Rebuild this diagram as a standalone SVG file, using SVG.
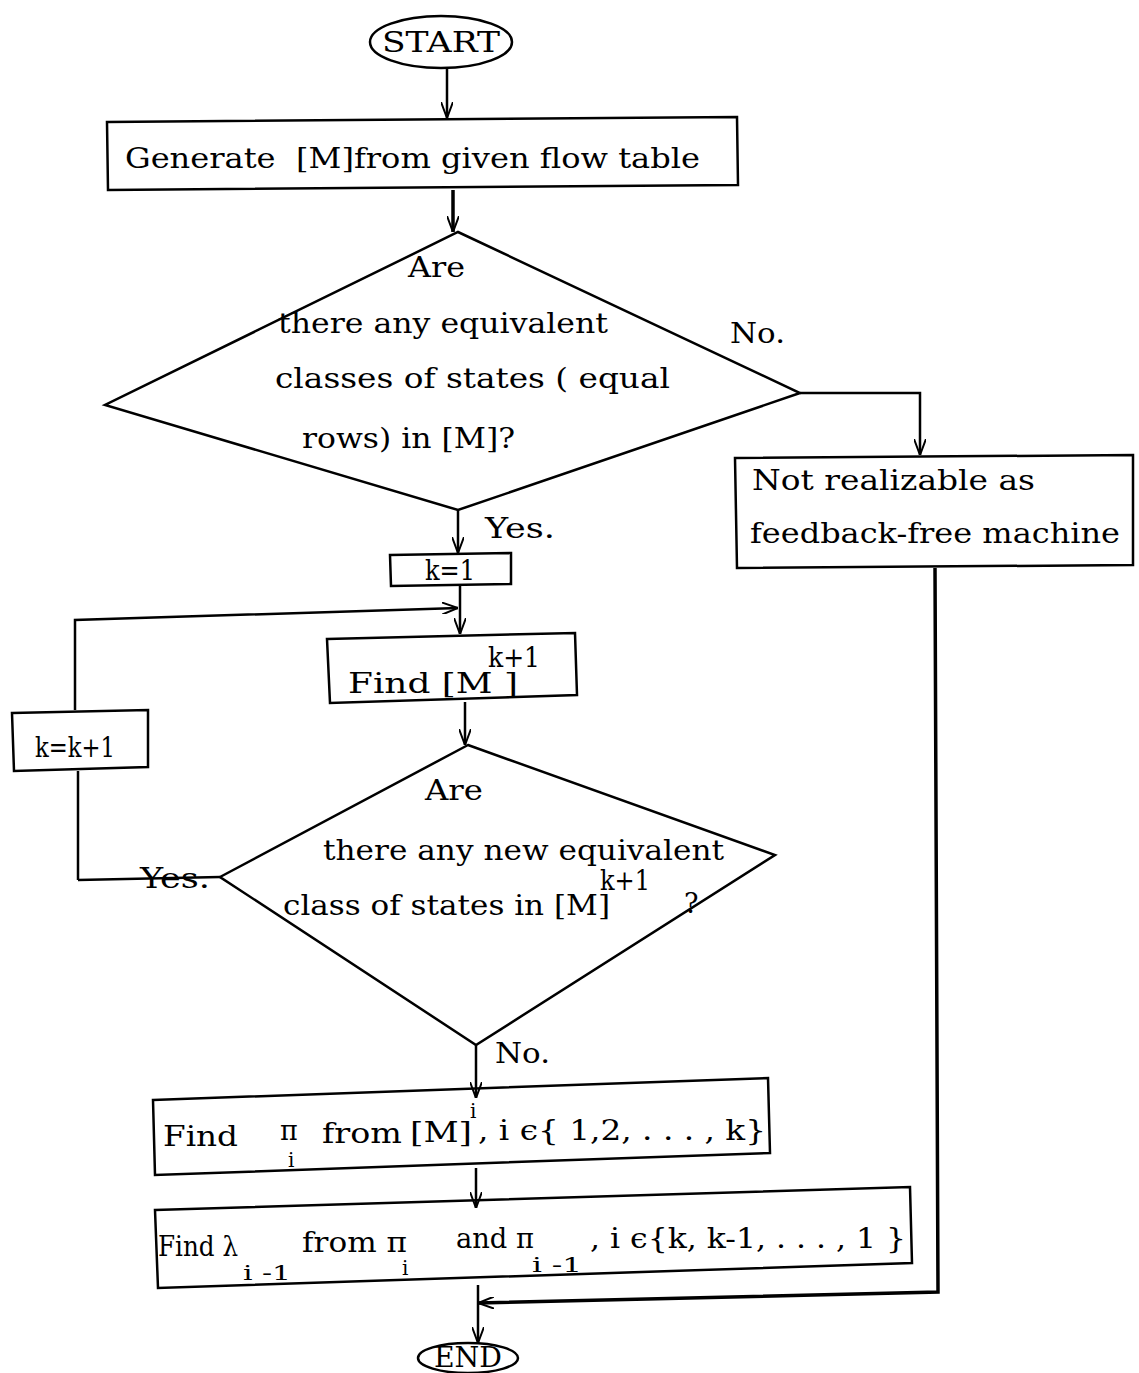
<svg xmlns="http://www.w3.org/2000/svg" width="1139" height="1373" viewBox="0 0 1139 1373">
<defs>
<style>
.s{fill:none;stroke:#000;stroke-width:2.5}
.t{font-family:"DejaVu Serif","Liberation Serif",serif;font-size:27px;fill:#000}
.sm{font-family:"DejaVu Serif","Liberation Serif",serif;font-size:20px;fill:#000}
</style>
<marker id="a" viewBox="0 0 16 12" refX="16" refY="6" markerWidth="16" markerHeight="12" markerUnits="userSpaceOnUse" orient="auto">
<path d="M0,0 L16,6 L0,12" fill="none" stroke="#000" stroke-width="2"/>
</marker>
</defs>
<rect width="1139" height="1373" fill="#fff"/>
<g id="connectors" class="s">
<line x1="447" y1="68" x2="447" y2="118" marker-end="url(#a)"/>
<line x1="453" y1="190" x2="453" y2="232" stroke-width="3.5" marker-end="url(#a)"/>
<polyline points="800,393 920,393 920,455" marker-end="url(#a)"/>
<line x1="458" y1="510" x2="458" y2="553" marker-end="url(#a)"/>
<line x1="460" y1="585" x2="460" y2="634" marker-end="url(#a)"/>
<polyline points="78,880 78,771"/>
<polyline points="75,710 75,620 458,608" marker-end="url(#a)"/>
<line x1="220" y1="877" x2="78" y2="880"/>
<line x1="465" y1="702" x2="465" y2="745" marker-end="url(#a)"/>
<line x1="476" y1="1045" x2="476" y2="1098" marker-end="url(#a)"/>
<line x1="476" y1="1168" x2="476" y2="1208" marker-end="url(#a)"/>
<line x1="478" y1="1285" x2="478" y2="1343" marker-end="url(#a)"/>
<polyline points="935,568 938,1292 478,1303" stroke-width="3.5" marker-end="url(#a)"/>
</g>
<g id="start">
<ellipse cx="441" cy="42" rx="71" ry="26" class="s"/>
<text x="441" y="52" text-anchor="middle" class="t" textLength="118" lengthAdjust="spacingAndGlyphs">START</text>
</g>
<g id="generate">
<polygon points="107,122 737,117 738,185 108,190" class="s"/>
<text x="125" y="168" class="t" textLength="575" lengthAdjust="spacingAndGlyphs">Generate &#160;[M]from given flow table</text>
</g>
<g id="decision1">
<polygon points="458,232 800,393 458,510 105,405" class="s"/>
<text x="408" y="277" class="t" textLength="57" lengthAdjust="spacingAndGlyphs">Are</text>
<text x="278" y="333" class="t" textLength="330" lengthAdjust="spacingAndGlyphs">there any equivalent</text>
<text x="275" y="388" class="t" textLength="395" lengthAdjust="spacingAndGlyphs">classes of states ( equal</text>
<text x="302" y="448" class="t" textLength="213" lengthAdjust="spacingAndGlyphs">rows) in [M]?</text>
</g>
<text x="730" y="343" class="t" textLength="55" lengthAdjust="spacingAndGlyphs">No.</text>
<text x="485" y="538" class="t" textLength="70" lengthAdjust="spacingAndGlyphs">Yes.</text>
<g id="notrealizable">
<polygon points="735,458 1133,455 1133,565 737,568" class="s"/>
<text x="752" y="490" class="t" textLength="283" lengthAdjust="spacingAndGlyphs">Not realizable as</text>
<text x="750" y="543" class="t" textLength="370" lengthAdjust="spacingAndGlyphs">feedback-free machine</text>
</g>
<g id="k1">
<polygon points="390,555 511,553 511,584 391,586" class="s"/>
<text x="450" y="580" text-anchor="middle" class="t" textLength="50" lengthAdjust="spacingAndGlyphs">k=1</text>
</g>
<g id="kk1">
<polygon points="12,713 148,710 148,767 14,771" class="s"/>
<text x="35" y="757" class="t" textLength="80" lengthAdjust="spacingAndGlyphs">k=k+1</text>
</g>
<g id="findM">
<polygon points="327,639 575,633 577,695 330,703" class="s"/>
<text x="348" y="693" class="t" textLength="170" lengthAdjust="spacingAndGlyphs">Find [M ]</text>
<text x="488" y="667" class="t" textLength="52" lengthAdjust="spacingAndGlyphs">k+1</text>
</g>
<g id="decision2">
<polygon points="468,745 775,855 476,1045 220,877" class="s"/>
<text x="425" y="800" class="t" textLength="58" lengthAdjust="spacingAndGlyphs">Are</text>
<text x="323" y="860" class="t" textLength="401" lengthAdjust="spacingAndGlyphs">there any new equivalent</text>
<text x="283" y="915" class="t" textLength="327" lengthAdjust="spacingAndGlyphs">class of states in [M]</text>
<text x="600" y="890" class="t" textLength="50" lengthAdjust="spacingAndGlyphs">k+1</text>
<text x="684" y="913" class="t">?</text>
</g>
<text x="140" y="888" class="t" textLength="70" lengthAdjust="spacingAndGlyphs">Yes.</text>
<text x="495" y="1063" class="t" textLength="55" lengthAdjust="spacingAndGlyphs">No.</text>
<g id="findpi">
<polygon points="153,1100 768,1078 770,1153 155,1175" class="s"/>
<text x="163" y="1146" class="t" textLength="75" lengthAdjust="spacingAndGlyphs">Find</text>
<text x="280" y="1140" class="t">π</text>
<text x="288" y="1167" class="sm">i</text>
<text x="322" y="1143" class="t" textLength="80" lengthAdjust="spacingAndGlyphs">from</text>
<text x="410" y="1142" class="t" textLength="62" lengthAdjust="spacingAndGlyphs">[M]</text>
<text x="470" y="1118" class="sm">i</text>
<text x="478" y="1140" class="t" textLength="288" lengthAdjust="spacingAndGlyphs">, i ϵ{ 1,2, . . . , k}</text>
</g>
<g id="findlambda">
<polygon points="155,1210 910,1187 912,1263 158,1288" class="s"/>
<text x="158" y="1256" class="t" textLength="80" lengthAdjust="spacingAndGlyphs">Find λ</text>
<text x="243" y="1280" class="sm" textLength="48" lengthAdjust="spacingAndGlyphs">i -1</text>
<text x="302" y="1252" class="t" textLength="105" lengthAdjust="spacingAndGlyphs">from π</text>
<text x="402" y="1275" class="sm">i</text>
<text x="456" y="1248" class="t" textLength="78" lengthAdjust="spacingAndGlyphs">and π</text>
<text x="532" y="1272" class="sm" textLength="50" lengthAdjust="spacingAndGlyphs">i -1</text>
<text x="590" y="1248" class="t" textLength="316" lengthAdjust="spacingAndGlyphs">, i ϵ{k, k-1, . . . , 1 }</text>
</g>
<g id="end">
<ellipse cx="468" cy="1358" rx="50" ry="15" class="s"/>
<text x="468" y="1367" text-anchor="middle" class="t" textLength="68" lengthAdjust="spacingAndGlyphs">END</text>
</g>
</svg>
